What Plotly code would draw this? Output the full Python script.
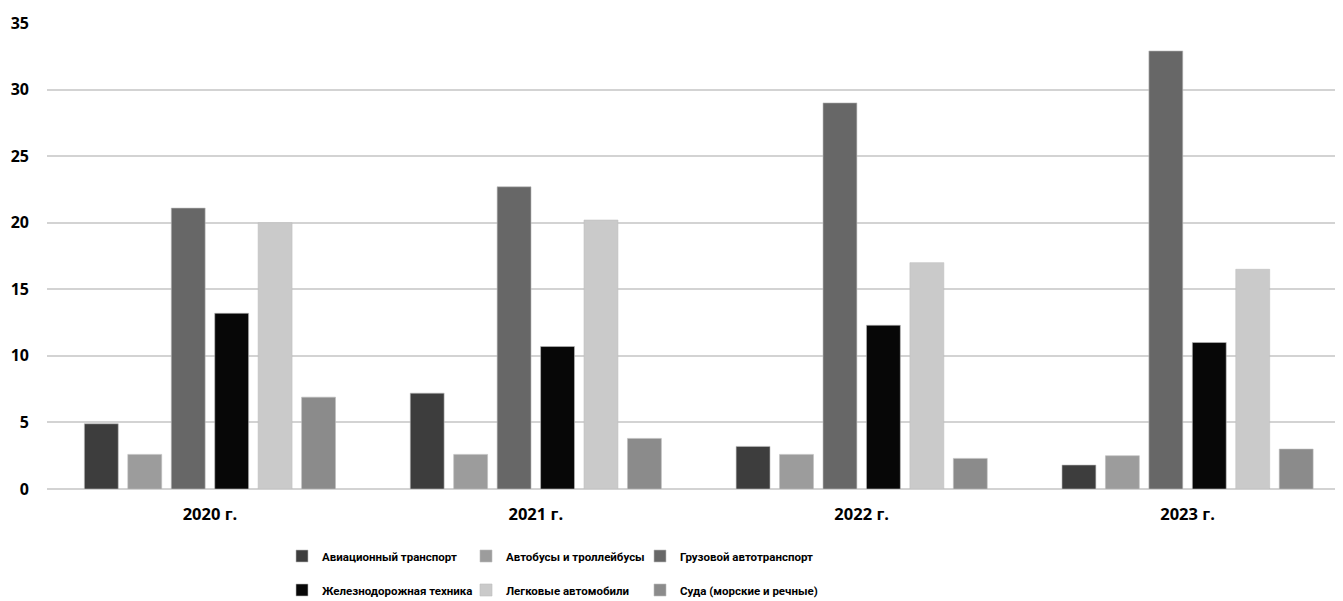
import plotly.graph_objects as go

years = ['2020 г.', '2021 г.', '2022 г.', '2023 г.']

series_names = [
    'Авиационный транспорт',
    'Автобусы и троллейбусы',
    'Грузовой автотранспорт',
    'Железнодорожная техника',
    'Легковые автомобили',
    'Суда (морские и речные)',
]

aviation = [4.9, 7.2, 3.2, 1.8]
buses = [2.6, 2.6, 2.6, 2.5]
trucks = [21.1, 22.7, 29.0, 32.9]
railway = [13.2, 10.7, 12.3, 11.0]
cars = [20.0, 20.2, 17.0, 16.5]
ships = [6.9, 3.8, 2.3, 3.0]

series_values = [aviation, buses, trucks, railway, cars, ships]
colors = ['#3d3d3d', '#9c9c9c', '#676767', '#070707', '#cacaca', '#8b8b8b']

# the page body has an 8px margin, so the figure is drawn a bit smaller
OFF = 8
W, H = 1343 - OFF, 601 - OFF

# one small legend per entry so the 3x2 grid can be placed freely
legend_ids = ['legend', 'legend2', 'legend3', 'legend4', 'legend5', 'legend6']
legend_x = [282, 466, 640, 282, 466, 640]      # page px, left edge of legend box
legend_y = [556, 556, 556, 590, 590, 590]      # page px, row centre

tick_font = 'Open Sans, sans-serif'
legend_font = 'Roboto, sans-serif'

fig = go.Figure()

for name, vals, col, leg in zip(series_names, series_values, colors, legend_ids):
    fig.add_trace(go.Bar(x=years, y=vals, name=name,
                         marker=dict(color=col, line=dict(color='#bdbdbd', width=0.6)),
                         legend=leg, showlegend=True))

legends = {}
for leg, lx, ly in zip(legend_ids, legend_x, legend_y):
    legends[leg] = dict(orientation='h', xref='container', yref='container',
                        x=(lx - OFF) / W, y=1 - (ly - OFF) / H,
                        xanchor='left', yanchor='middle',
                        font=dict(family=legend_font, size=11.5, color='#000000', weight='bold'),
                        bgcolor='rgba(0,0,0,0)', itemclick=False)

fig.update_layout(
    width=W, height=H,
    showlegend=True,
    margin=dict(l=47 - OFF, r=0, t=23 - OFF, b=H - (489 - OFF)),
    plot_bgcolor='white', paper_bgcolor='white',
    barmode='group', bargap=0.2, bargroupgap=0.22,
    font=dict(family=tick_font, color='#000000'),
    **legends,
    xaxis=dict(range=[-0.5, 3.477], tickfont=dict(size=16.5, weight='bold'), showline=False,
               ticks='', automargin=False, ticklabelstandoff=13),
    yaxis=dict(range=[0, 35], dtick=5, showgrid=True, gridcolor='#d3d3d3', gridwidth=1.5,
               zeroline=True, zerolinecolor='#d3d3d3', zerolinewidth=1.5,
               tickfont=dict(size=16, weight='bold'), ticklabelstandoff=17, automargin=False),
)

fig.write_html("out.html")
